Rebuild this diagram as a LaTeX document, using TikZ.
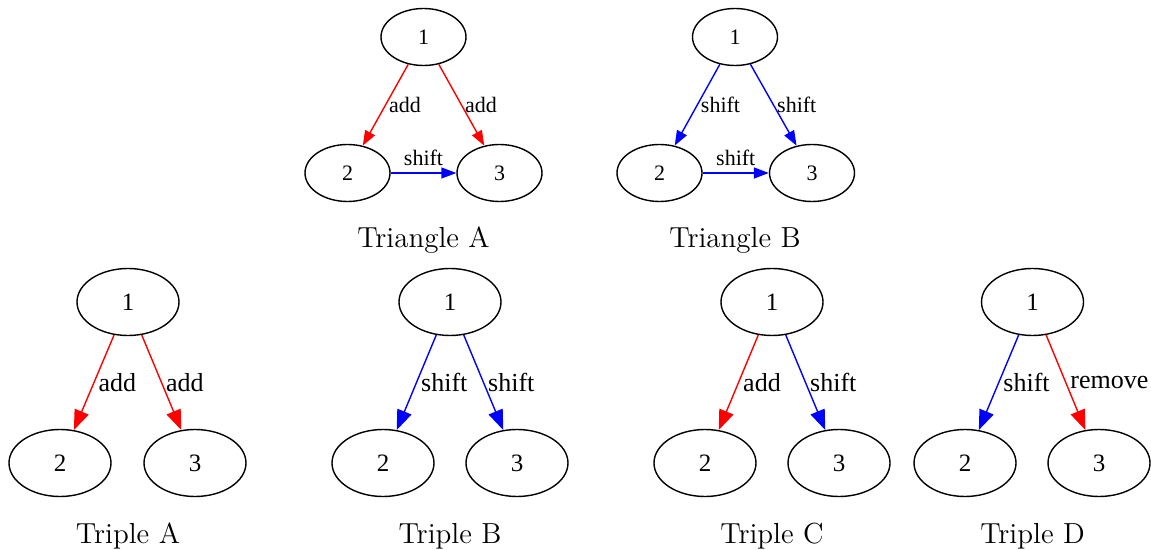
\documentclass[tikz,border=0pt]{standalone}
\usepackage{fontspec}
\newfontfamily\timesfont{Liberation Serif}
\usetikzlibrary{shapes.geometric, arrows.meta}

\begin{document}
\begin{tikzpicture}[
    x=0.5pt, y=-0.5pt,
    tri/.style={ellipse, draw, line width=0.7pt, inner sep=0pt,
                minimum width=42.5pt, minimum height=28.5pt,
                font=\timesfont\fontsize{11}{13}\selectfont},
    tpl/.style={ellipse, draw, line width=0.7pt, inner sep=0pt,
                minimum width=51pt, minimum height=33.5pt,
                font=\timesfont\fontsize{12.5}{15}\selectfont},
    title/.style={font=\fontsize{14.5}{17}\selectfont},
    sarr/.style={-{Triangle[length=7.5pt, width=5.5pt]}, line width=0.7pt},
    barr/.style={-{Triangle[length=10pt, width=7.5pt]}, line width=0.7pt},
    slab/.style={font=\timesfont\fontsize{11}{13}\selectfont, text=black,
                 inner sep=1.5pt},
    blab/.style={font=\timesfont\fontsize{13}{15}\selectfont, text=black,
                 inner sep=2pt}
  ]
  \useasboundingbox (0,0) rectangle (1151,550);

  % Triangle A
  \node[tri] (ta1) at (423.5,37) {1};
  \node[tri] (ta2) at (347.5,173) {2};
  \node[tri] (ta3) at (499.5,173) {3};
  \draw[sarr, red] (ta1) -- node[slab, right] {add} (ta2);
  \draw[sarr, red] (ta1) -- node[slab, right] {add} (ta3);
  \draw[sarr, blue] (ta2) -- node[slab, above=2pt] {shift} (ta3);
  \node[title] (tat) at (423.5,240) {Triangle A};

  % Triangle B
  \node[tri] (tb1) at (735,37) {1};
  \node[tri] (tb2) at (659.5,173) {2};
  \node[tri] (tb3) at (812,173) {3};
  \draw[sarr, blue] (tb1) -- node[slab, right] {shift} (tb2);
  \draw[sarr, blue] (tb1) -- node[slab, right] {shift} (tb3);
  \draw[sarr, blue] (tb2) -- node[slab, above=2pt] {shift} (tb3);
  \node[title] (tbt) at (735,240) {Triangle B};

  % Triple A
  \node[tpl] (pa1) at (128,302) {1};
  \node[tpl] (pa2) at (60,463) {2};
  \node[tpl] (pa3) at (195,463) {3};
  \draw[barr, red] (pa1) -- node[blab, right] {add} (pa2);
  \draw[barr, red] (pa1) -- node[blab, right] {add} (pa3);
  \node[title] (pat) at (128,536) {Triple A};

  % Triple B
  \node[tpl] (pb1) at (450,302) {1};
  \node[tpl] (pb2) at (383,463) {2};
  \node[tpl] (pb3) at (517,463) {3};
  \draw[barr, blue] (pb1) -- node[blab, right] {shift} (pb2);
  \draw[barr, blue] (pb1) -- node[blab, right] {shift} (pb3);
  \node[title] (pbt) at (450,536) {Triple B};

  % Triple C
  \node[tpl] (pc1) at (772,302) {1};
  \node[tpl] (pc2) at (705,463) {2};
  \node[tpl] (pc3) at (839,463) {3};
  \draw[barr, red] (pc1) -- node[blab, right] {add} (pc2);
  \draw[barr, blue] (pc1) -- node[blab, right] {shift} (pc3);
  \node[title] (pct) at (772,536) {Triple C};

  % Triple D
  \node[tpl] (pd1) at (1032.5,302) {1};
  \node[tpl] (pd2) at (965,463) {2};
  \node[tpl] (pd3) at (1099,463) {3};
  \draw[barr, blue] (pd1) -- node[blab, right] {shift} (pd2);
  \draw[barr, red] (pd1) -- node[blab, right] {remove} (pd3);
  \node[title] (pdt) at (1032.5,536) {Triple D};

\end{tikzpicture}
\end{document}
